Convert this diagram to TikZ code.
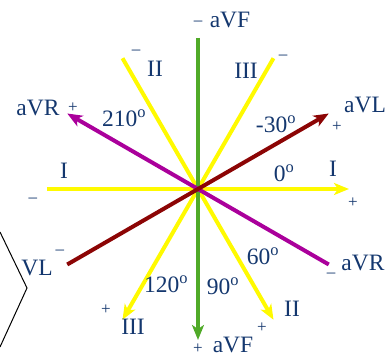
\documentclass[tikz,border=0pt]{standalone}
\usepackage{fontspec}
\setmainfont{Liberation Serif}
\usetikzlibrary{arrows.meta}

\definecolor{txtblue}{RGB}{20,55,110}
\definecolor{leadyellow}{RGB}{255,250,0}
\definecolor{leadgreen}{RGB}{80,170,40}
\definecolor{leadmagenta}{RGB}{170,0,155}
\definecolor{leadred}{RGB}{140,5,5}

\tikzset{
    lead/.style={line width=4pt, -{Stealth[length=15pt, width=12pt, inset=4pt]}},
    lbl/.style={txtblue, inner sep=0pt, font=\fontsize{23.5}{24}\selectfont},
    sgn/.style={txtblue, inner sep=0pt, font=\fontsize{17}{17}\selectfont}
}

\newcommand{\degr}[1]{#1\textsuperscript{o}}

\begin{document}
\begin{tikzpicture}[x=1pt, y=1pt]
    % --- canvas and parameters ---
    \def\R{151}   % length of each lead from the centre
    \useasboundingbox (-198,-169) rectangle (192,189);

    % --- end points of the leads ---
    \coordinate (O) at (0,0);
    \coordinate (Ineg) at (180:\R);
    \coordinate (Ipos) at (0:\R);
    \coordinate (IIneg) at (120:\R);
    \coordinate (IIpos) at (-60:\R);
    \coordinate (IIIneg) at (60:\R);
    \coordinate (IIIpos) at (-120:\R);
    \coordinate (aVFneg) at (90:\R);
    \coordinate (aVFpos) at (-90:\R);
    \coordinate (aVRneg) at (-30:\R);
    \coordinate (aVRpos) at (150:\R);
    \coordinate (aVLneg) at (210:\R);
    \coordinate (aVLpos) at (30:\R);

    % --- limb leads (yellow) ---
    \draw[lead, leadyellow] (Ineg) -- (Ipos);
    \draw[lead, leadyellow] (IIneg) -- (IIpos);
    \draw[lead, leadyellow] (IIIneg) -- (IIIpos);

    % --- augmented leads ---
    \draw[lead, leadgreen] (aVFneg) -- (aVFpos);
    \draw[lead, leadmagenta] (aVRneg) -- (aVRpos);
    \draw[lead, leadred] (aVLneg) -- (aVLpos);

    % --- piece of the outline at the left edge ---
    \coordinate (edgeA) at (-198,-43);
    \coordinate (edgeB) at (-171,-99);
    \coordinate (edgeC) at (-198,-158);
    \draw[black, line width=1pt] (edgeA) -- (edgeB) -- (edgeC);

    % --- lead names ---
    \node[lbl] (aVFtop) at (32,169) {aVF};
    \node[lbl] (aVFbot) at (35,-156) {aVF};
    \node[lbl] (IIupper) at (-43,120) {II};
    \node[lbl] (IIlower) at (94,-120) {II};
    \node[lbl] (IIIupper) at (48,118) {III};
    \node[lbl] (IIIlower) at (-65,-138) {III};
    \node[lbl] (aVRleft) at (-160,81) {aVR};
    \node[lbl] (aVRright) at (165,-74) {aVR};
    \node[lbl] (aVLright) at (167,84) {aVL};
    \node[lbl] (VLleft) at (-161,-79) {VL};
    \node[lbl] (Ileft) at (-134,18) {I};
    \node[lbl] (Iright) at (135,20) {I};

    % --- angles ---
    \node[lbl] (ang210) at (-74,71) {\degr{210}};
    \node[lbl] (angm30) at (78,65) {\degr{-30}};
    \node[lbl] (ang0) at (86,16) {\degr{0}};
    \node[lbl] (ang60) at (65,-67) {\degr{60}};
    \node[lbl] (ang90) at (25,-97) {\degr{90}};
    \node[lbl] (ang120) at (-32,-95) {\degr{120}};

    % --- polarity signs ---
    \node[sgn] (sgnFtop) at (0,166) {--};
    \node[sgn] (sgnFbot) at (0,-160) {+};
    \node[sgn] (sgnIIup) at (-62,137) {--};
    \node[sgn] (sgnIIlow) at (64,-139) {+};
    \node[sgn] (sgnIIIup) at (85,132) {--};
    \node[sgn] (sgnIIIlow) at (-92,-121) {+};
    \node[sgn] (sgnRleft) at (-125,81) {+};
    \node[sgn] (sgnRright) at (133,-86) {--};
    \node[sgn] (sgnLright) at (139,62) {+};
    \node[sgn] (sgnLleft) at (-138,-63) {--};
    \node[sgn] (sgnIleft) at (-165,-11) {--};
    \node[sgn] (sgnIright) at (155,-14) {+};
\end{tikzpicture}
\end{document}
